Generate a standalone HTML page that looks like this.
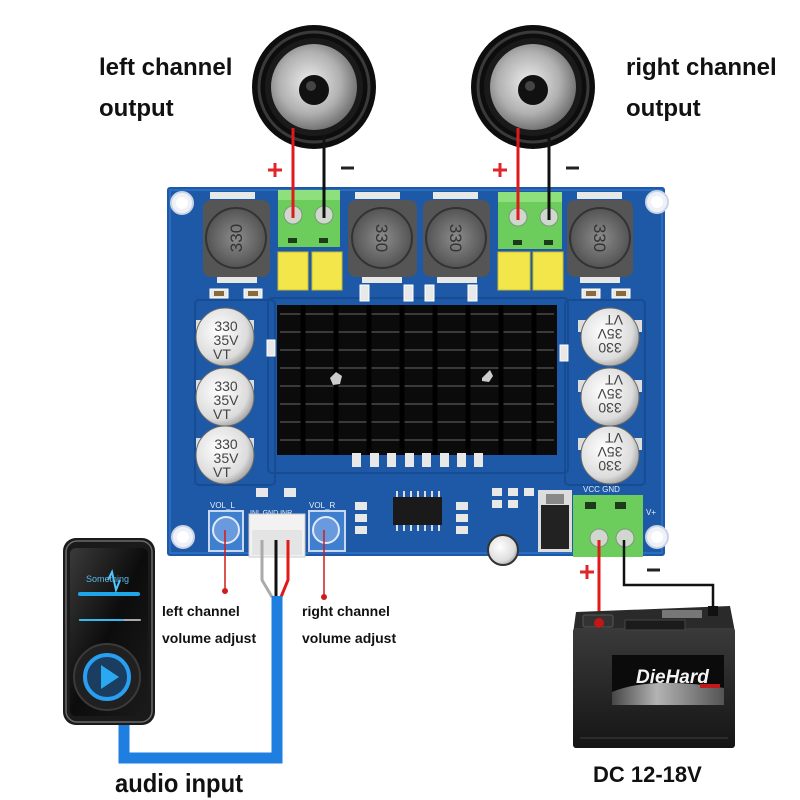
<!DOCTYPE html>
<html><head><meta charset="utf-8"><style>
html,body{margin:0;padding:0;background:#fff;}
svg{display:block;}
text{font-family:"Liberation Sans",Arial,sans-serif;}
</style></head><body>
<svg width="800" height="800" viewBox="0 0 800 800" xmlns="http://www.w3.org/2000/svg">
<defs>
<radialGradient id="cone" cx="0.45" cy="0.45" r="0.6">
<stop offset="0" stop-color="#eeeeee"/><stop offset="0.6" stop-color="#b0b0b0"/><stop offset="1" stop-color="#666"/>
</radialGradient>
<radialGradient id="cap" cx="0.4" cy="0.4" r="0.7">
<stop offset="0" stop-color="#ffffff"/><stop offset="0.7" stop-color="#dcdcdc"/><stop offset="1" stop-color="#8a8a8a"/>
</radialGradient>
<radialGradient id="ind" cx="0.5" cy="0.5" r="0.55">
<stop offset="0" stop-color="#8c8c8c"/><stop offset="1" stop-color="#4e4e4e"/>
</radialGradient>
<linearGradient id="screen" x1="0" y1="0" x2="1" y2="1">
<stop offset="0" stop-color="#3a3a3a"/><stop offset="0.5" stop-color="#0c0c0c"/><stop offset="1" stop-color="#1b1b1b"/>
</linearGradient>
<linearGradient id="batt" x1="0" y1="0" x2="0" y2="1">
<stop offset="0" stop-color="#3a3a3a"/><stop offset="1" stop-color="#151515"/>
</linearGradient>
<linearGradient id="silver" x1="0" y1="0" x2="1" y2="0">
<stop offset="0" stop-color="#555"/><stop offset="0.4" stop-color="#ddd"/><stop offset="1" stop-color="#666"/>
</linearGradient>
</defs>

<!-- Labels top -->
<text x="99" y="75" font-size="24" font-weight="bold" fill="#111">left channel</text>
<text x="99" y="116" font-size="24" font-weight="bold" fill="#111">output</text>
<text x="626" y="75" font-size="24" font-weight="bold" fill="#111">right channel</text>
<text x="626" y="116" font-size="24" font-weight="bold" fill="#111">output</text>

<!-- Speakers -->
<g>
<circle cx="314" cy="87" r="62" fill="#0d0d0d"/>
<circle cx="314" cy="87" r="55" fill="none" stroke="#3a3a3a" stroke-width="3"/>
<circle cx="314" cy="87" r="49" fill="#1a1a1a"/>
<circle cx="314" cy="87" r="43" fill="url(#cone)"/>
<circle cx="314" cy="90" r="15" fill="#111"/>
<circle cx="311" cy="86" r="5" fill="#444"/>
</g>
<g>
<circle cx="533" cy="87" r="62" fill="#0d0d0d"/>
<circle cx="533" cy="87" r="55" fill="none" stroke="#3a3a3a" stroke-width="3"/>
<circle cx="533" cy="87" r="49" fill="#1a1a1a"/>
<circle cx="533" cy="87" r="43" fill="url(#cone)"/>
<circle cx="533" cy="90" r="15" fill="#111"/>
<circle cx="530" cy="86" r="5" fill="#444"/>
</g>

<!-- plus / minus top -->
<g fill="none" stroke-width="3">
<path d="M268 170 H282 M275 163 V177" stroke="#e0262a"/>
<path d="M341 168 H354" stroke="#222"/>
<path d="M493 170 H507 M500 163 V177" stroke="#e0262a"/>
<path d="M566 168 H579" stroke="#222"/>
</g>

<!-- PCB -->
<rect x="167" y="187" width="498" height="369" rx="3" fill="#1d59a6"/>
<rect x="170" y="190" width="492" height="363" fill="none" stroke="#2a6cc0" stroke-width="2"/>
<rect x="195" y="300" width="80" height="185" rx="4" fill="none" stroke="#174c92" stroke-width="2"/>
<rect x="565" y="300" width="80" height="185" rx="4" fill="none" stroke="#174c92" stroke-width="2"/>
<rect x="268" y="298" width="300" height="175" rx="4" fill="none" stroke="#174c92" stroke-width="2"/>
<!-- mounting holes -->
<g fill="#eef2f8" stroke="#c9d4e4" stroke-width="2">
<circle cx="182" cy="203" r="11"/><circle cx="657" cy="202" r="11"/>
<circle cx="183" cy="537" r="11"/><circle cx="657" cy="537" r="11"/>
</g>
<g fill="#fff"><circle cx="182" cy="203" r="6"/><circle cx="657" cy="202" r="6"/><circle cx="183" cy="537" r="6"/><circle cx="657" cy="537" r="6"/></g>

<!-- Inductors -->
<g>
<rect x="210" y="192" width="45" height="7" fill="#e8e8e8"/>
<rect x="355" y="192" width="45" height="7" fill="#e8e8e8"/>
<rect x="433" y="192" width="45" height="7" fill="#e8e8e8"/>
<rect x="577" y="192" width="45" height="7" fill="#e8e8e8"/>
<rect x="217" y="275" width="40" height="8" fill="#e8e8e8"/>
<rect x="362" y="275" width="40" height="8" fill="#e8e8e8"/>
<rect x="437" y="275" width="40" height="8" fill="#e8e8e8"/>
<rect x="580" y="275" width="40" height="8" fill="#e8e8e8"/>
<rect x="203" y="200" width="67" height="77" rx="8" fill="#555"/>
<rect x="348" y="200" width="69" height="77" rx="8" fill="#555"/>
<rect x="423" y="200" width="67" height="77" rx="8" fill="#555"/>
<rect x="567" y="200" width="66" height="77" rx="8" fill="#555"/>
<circle cx="236" cy="238" r="30" fill="url(#ind)" stroke="#333" stroke-width="2"/>
<circle cx="382" cy="238" r="30" fill="url(#ind)" stroke="#333" stroke-width="2"/>
<circle cx="456" cy="238" r="30" fill="url(#ind)" stroke="#333" stroke-width="2"/>
<circle cx="600" cy="238" r="30" fill="url(#ind)" stroke="#333" stroke-width="2"/>
<g font-size="17" fill="#333" text-anchor="middle">
<text transform="translate(236,238) rotate(-90)" y="6">330</text>
<text transform="translate(382,238) rotate(90)" y="6">330</text>
<text transform="translate(456,238) rotate(90)" y="6">330</text>
<text transform="translate(600,238) rotate(90)" y="6">330</text>
</g>
</g>

<!-- Terminal blocks top -->
<rect x="278" y="190" width="62" height="57" fill="#6ccc5c"/>
<rect x="278" y="190" width="62" height="10" fill="#8ee07c"/>
<circle cx="293" cy="215" r="9" fill="#cfd7cf" stroke="#7a9a76"/>
<circle cx="324" cy="215" r="9" fill="#cfd7cf" stroke="#7a9a76"/>
<rect x="288" y="238" width="9" height="5" fill="#1d3a1a"/>
<rect x="319" y="238" width="9" height="5" fill="#1d3a1a"/>
<rect x="498" y="192" width="64" height="57" fill="#6ccc5c"/>
<rect x="498" y="192" width="64" height="10" fill="#8ee07c"/>
<circle cx="518" cy="217" r="9" fill="#cfd7cf" stroke="#7a9a76"/>
<circle cx="549" cy="217" r="9" fill="#cfd7cf" stroke="#7a9a76"/>
<rect x="513" y="240" width="9" height="5" fill="#1d3a1a"/>
<rect x="544" y="240" width="9" height="5" fill="#1d3a1a"/>

<!-- speaker wires -->
<g stroke-width="3">
<line x1="293" y1="128" x2="293" y2="218" stroke="#e01a1a"/>
<line x1="324" y1="135" x2="324" y2="218" stroke="#111"/>
<line x1="518" y1="128" x2="518" y2="220" stroke="#e01a1a"/>
<line x1="549" y1="135" x2="549" y2="220" stroke="#111"/>
</g>

<!-- Yellow caps -->
<g fill="#f2e64a" stroke="#c9bd2a">
<rect x="278" y="252" width="30" height="38"/>
<rect x="312" y="252" width="30" height="38"/>
<rect x="498" y="252" width="32" height="38"/>
<rect x="533" y="252" width="30" height="38"/>
</g>

<!-- small SMD parts -->
<g fill="#e8e8e8" stroke="#fff" stroke-width="1">
<rect x="210" y="289" width="18" height="9"/><rect x="244" y="289" width="18" height="9"/>
<rect x="582" y="289" width="18" height="9"/><rect x="612" y="289" width="18" height="9"/>
<rect x="360" y="285" width="9" height="16"/><rect x="404" y="285" width="9" height="16"/>
<rect x="425" y="285" width="9" height="16"/><rect x="468" y="285" width="9" height="16"/>
<rect x="267" y="340" width="8" height="16"/><rect x="560" y="345" width="8" height="16"/>
</g>
<g fill="#8a6a3a"><rect x="214" y="291" width="10" height="5"/><rect x="248" y="291" width="10" height="5"/><rect x="586" y="291" width="10" height="5"/><rect x="616" y="291" width="10" height="5"/></g>

<!-- Heatsink -->
<rect x="277" y="305" width="280" height="150" fill="#0b0b0b"/>
<g stroke="#3a3a3a" stroke-width="2">
<line x1="280" y1="314" x2="554" y2="314"/>
<line x1="280" y1="332" x2="554" y2="332"/>
<line x1="280" y1="350" x2="554" y2="350"/>
<line x1="280" y1="368" x2="554" y2="368"/>
<line x1="280" y1="386" x2="554" y2="386"/>
<line x1="280" y1="404" x2="554" y2="404"/>
<line x1="280" y1="422" x2="554" y2="422"/>
<line x1="280" y1="440" x2="554" y2="440"/>
</g>
<g stroke="#000" stroke-width="5">
<line x1="303" y1="305" x2="303" y2="455"/><line x1="336" y1="305" x2="336" y2="455"/>
<line x1="369" y1="305" x2="369" y2="455"/><line x1="402" y1="305" x2="402" y2="455"/>
<line x1="435" y1="305" x2="435" y2="455"/><line x1="468" y1="305" x2="468" y2="455"/>
<line x1="501" y1="305" x2="501" y2="455"/><line x1="534" y1="305" x2="534" y2="455"/>
</g>
<path d="M330 378 l6 -6 l6 4 l-2 8 l-7 1z" fill="#ccc"/>
<path d="M482 378 l8 -8 l3 6 l-4 6 l-7 -1z" fill="#ccc"/>
<g fill="#e8e8e8">
<rect x="352" y="453" width="9" height="14"/><rect x="370" y="453" width="9" height="14"/>
<rect x="387" y="453" width="9" height="14"/><rect x="405" y="453" width="9" height="14"/>
<rect x="422" y="453" width="9" height="14"/><rect x="440" y="453" width="9" height="14"/>
<rect x="457" y="453" width="9" height="14"/><rect x="474" y="453" width="9" height="14"/>
</g>

<!-- Electrolytic caps -->
<g>
<rect x="196" y="320" width="58" height="12" fill="#ddd"/>
<rect x="196" y="380" width="58" height="12" fill="#ddd"/>
<rect x="196" y="438" width="58" height="12" fill="#ddd"/>
<rect x="578" y="320" width="64" height="12" fill="#ddd"/>
<rect x="578" y="380" width="64" height="12" fill="#ddd"/>
<rect x="578" y="438" width="64" height="12" fill="#ddd"/>
<circle cx="225" cy="337" r="29" fill="url(#cap)" stroke="#666"/>
<circle cx="225" cy="397" r="29" fill="url(#cap)" stroke="#666"/>
<circle cx="225" cy="455" r="29" fill="url(#cap)" stroke="#666"/>
<circle cx="610" cy="337" r="29" fill="url(#cap)" stroke="#666"/>
<circle cx="610" cy="397" r="29" fill="url(#cap)" stroke="#666"/>
<circle cx="610" cy="455" r="29" fill="url(#cap)" stroke="#666"/>
<g font-size="14" fill="#444" text-anchor="middle">
<text x="226" y="331">330</text><text x="226" y="345">35V</text><text x="222" y="359">VT</text>
<text x="226" y="391">330</text><text x="226" y="405">35V</text><text x="222" y="419">VT</text>
<text x="226" y="449">330</text><text x="226" y="463">35V</text><text x="222" y="477">VT</text>
<g transform="rotate(180 610 337)"><text x="610" y="331">330</text><text x="610" y="345">35V</text><text x="606" y="359">VT</text></g>
<g transform="rotate(180 610 397)"><text x="610" y="391">330</text><text x="610" y="405">35V</text><text x="606" y="419">VT</text></g>
<g transform="rotate(180 610 455)"><text x="610" y="449">330</text><text x="610" y="463">35V</text><text x="606" y="477">VT</text></g>
</g>
</g>

<!-- Bottom area -->
<g fill="#e8e8e8">
<rect x="256" y="488" width="12" height="9"/><rect x="284" y="488" width="12" height="9"/>
<rect x="355" y="502" width="12" height="8"/><rect x="355" y="514" width="12" height="8"/><rect x="355" y="526" width="12" height="8"/>
<rect x="456" y="502" width="12" height="8"/><rect x="456" y="514" width="12" height="8"/><rect x="456" y="526" width="12" height="8"/>
<rect x="492" y="488" width="10" height="8"/><rect x="508" y="488" width="10" height="8"/><rect x="524" y="488" width="10" height="8"/>
<rect x="492" y="500" width="10" height="8"/><rect x="508" y="500" width="10" height="8"/>
</g>
<g font-size="8" fill="#e6eef8">
<text x="210" y="508">VOL_L</text><text x="309" y="508">VOL_R</text>
<text x="250" y="515" font-size="7">INL GND INR</text>
<text x="583" y="492">VCC GND</text><text x="646" y="515">V+</text>
</g>
<!-- pots -->
<rect x="209" y="511" width="34" height="40" fill="#3f7fd0" stroke="#c8d8ee" stroke-width="2"/>
<circle cx="226" cy="530" r="13" fill="#6a9ade" stroke="#dfe9f7" stroke-width="2"/>
<rect x="309" y="511" width="36" height="40" fill="#3f7fd0" stroke="#c8d8ee" stroke-width="2"/>
<circle cx="326" cy="530" r="13" fill="#6a9ade" stroke="#dfe9f7" stroke-width="2"/>
<!-- white connector -->
<rect x="249" y="514" width="56" height="43" fill="#f2f2f2" stroke="#ccc"/>
<rect x="252" y="530" width="50" height="25" fill="#e4e4e4"/>
<!-- IC -->
<rect x="393" y="497" width="49" height="28" fill="#1a1a1a"/>
<g stroke="#ddd" stroke-width="2">
<path d="M397 491v6M404 491v6M411 491v6M418 491v6M425 491v6M432 491v6M439 491v6"/>
<path d="M397 525v6M404 525v6M411 525v6M418 525v6M425 525v6M432 525v6M439 525v6"/>
</g>
<!-- small electrolytic -->
<circle cx="503" cy="550" r="15" fill="url(#cap)" stroke="#333" stroke-width="2"/>
<!-- D-pak -->
<rect x="538" y="490" width="34" height="62" fill="#ddd"/>
<rect x="541" y="505" width="28" height="44" fill="#222"/>
<rect x="546" y="494" width="18" height="10" fill="#888"/>
<!-- bottom terminal -->
<rect x="573" y="495" width="70" height="62" fill="#6ccc5c"/>
<rect x="585" y="502" width="11" height="7" fill="#1d3a1a"/>
<rect x="615" y="502" width="11" height="7" fill="#1d3a1a"/>
<circle cx="599" cy="538" r="9" fill="#cfd7cf" stroke="#7a9a76"/>
<circle cx="625" cy="538" r="9" fill="#cfd7cf" stroke="#7a9a76"/>

<!-- pot indicators -->
<g stroke="#d01c1c" stroke-width="1.5">
<line x1="225" y1="530" x2="225" y2="590"/>
<line x1="324" y1="530" x2="324" y2="596"/>
</g>
<circle cx="225" cy="591" r="3" fill="#d01c1c"/>
<circle cx="324" cy="597" r="3" fill="#d01c1c"/>

<!-- audio wires -->
<g fill="none" stroke-width="3">
<path d="M262 540 V580 L272 597" stroke="#aaa"/>
<path d="M276 540 V597" stroke="#111"/>
<path d="M288 540 V580 L281 597" stroke="#e01a1a"/>
</g>
<!-- blue cable -->
<path d="M124 720 V758 H277 V596" fill="none" stroke="#1e7fe0" stroke-width="11"/>

<!-- Phone -->
<rect x="63" y="538" width="92" height="187" rx="13" fill="#1a1a1a"/>
<rect x="66" y="541" width="86" height="181" rx="11" fill="none" stroke="#6a6a6a" stroke-width="1.5"/>
<rect x="70" y="548" width="78" height="168" rx="6" fill="url(#screen)"/>
<g stroke="#36b8f0" stroke-width="3" stroke-linecap="round">
<line x1="80" y1="594" x2="138" y2="594" stroke="#1ea6e8" stroke-width="4"/>
<line x1="80" y1="620" x2="140" y2="620" stroke="#aaa" stroke-width="2"/>
<line x1="80" y1="620" x2="123" y2="620" stroke-width="2"/>
</g>
<path d="M108 580 l4 -8 l4 18 l4 -10" stroke="#4cc8ff" stroke-width="2" fill="none"/>
<text x="86" y="582" font-size="9" fill="#5ab8e8">Something</text>
<circle cx="107" cy="677" r="33" fill="#202020" stroke="#3a3a3a" stroke-width="2"/>
<circle cx="107" cy="677" r="22" fill="#1a3d60" stroke="#2a9ef0" stroke-width="4"/>
<path d="M101 665 L119 677 L101 689 Z" fill="#2aa8f0"/>

<!-- left/right channel volume labels -->
<g font-size="14" font-weight="bold" fill="#111">
<text x="162" y="616">left channel</text>
<text x="162" y="643">volume adjust</text>
<text x="302" y="616">right channel</text>
<text x="302" y="643">volume adjust</text>
</g>
<text x="115" y="792" font-size="26" font-weight="bold" fill="#111" textLength="128" lengthAdjust="spacingAndGlyphs">audio input</text>

<!-- battery wires -->
<path d="M580 572 H594 M587 565 V579" stroke="#e0262a" stroke-width="3"/>
<path d="M647 570 H660" stroke="#222" stroke-width="3"/>
<line x1="599" y1="540" x2="599" y2="625" stroke="#e01a1a" stroke-width="3"/>
<path d="M624 540 V585 H713 V612" fill="none" stroke="#111" stroke-width="2.5"/>

<!-- Battery -->
<path d="M576 612 L730 606 L735 632 L573 634 Z" fill="#2a2a2a"/>
<rect x="573" y="628" width="162" height="120" rx="3" fill="url(#batt)"/>
<rect x="583" y="615" width="30" height="12" rx="2" fill="#333" stroke="#555"/>
<circle cx="599" cy="623" r="5" fill="#c01818"/>
<rect x="662" y="610" width="40" height="8" fill="#777"/>
<rect x="625" y="620" width="60" height="10" fill="#1b1b1b" stroke="#444"/>
<rect x="708" y="606" width="10" height="10" fill="#111"/>
<rect x="612" y="655" width="112" height="50" fill="#0b0b0b"/>
<path d="M612 692 Q650 676 724 688 V705 H612 Z" fill="url(#silver)" opacity="0.8"/>
<text x="636" y="683" font-size="19" font-weight="bold" font-style="italic" fill="#f4f4f4">DieHard</text>
<rect x="700" y="684" width="20" height="4" fill="#c21a1a"/>
<line x1="580" y1="738" x2="728" y2="738" stroke="#2b2b2b" stroke-width="2"/>

<text x="593" y="782" font-size="22" font-weight="bold" fill="#111">DC 12-18V</text>
</svg>
</body></html>
